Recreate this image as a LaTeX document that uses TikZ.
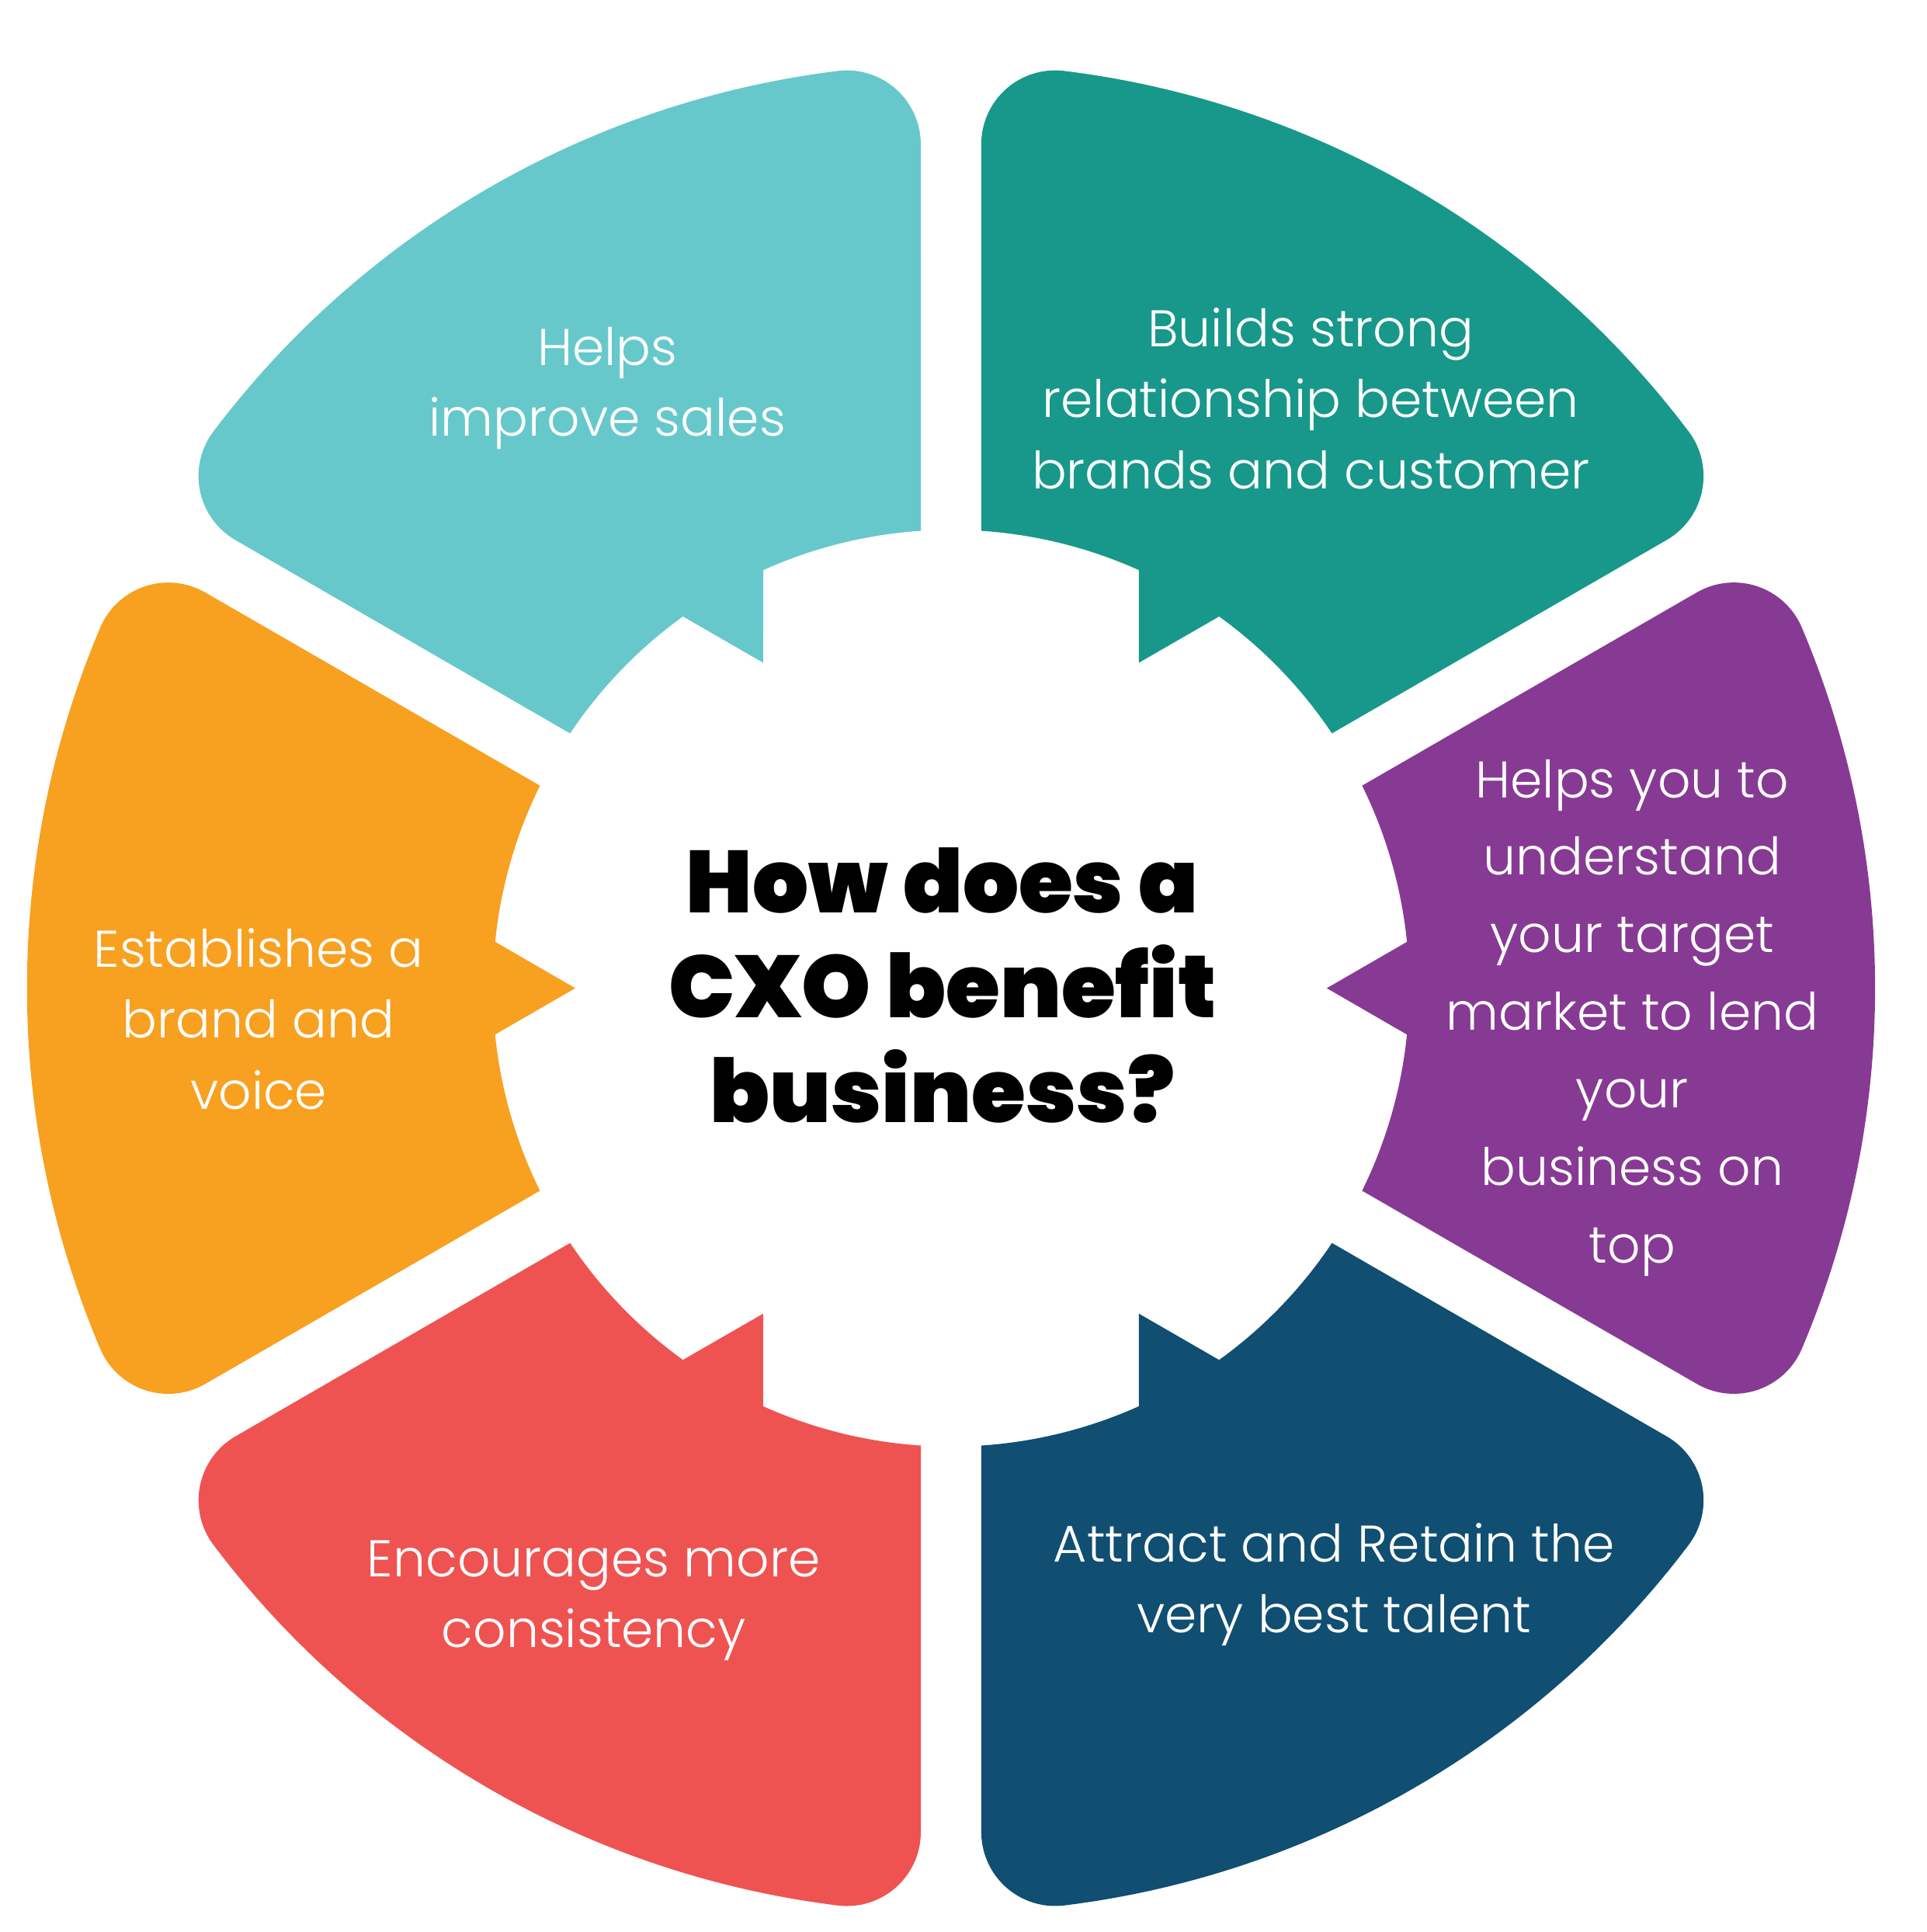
\documentclass[tikz,border=0pt]{standalone}
\usepackage{fontspec}
\newfontfamily\bodyfont{Poppins Light}
\newfontfamily\titlefont{Poppins Black}
\definecolor{cLightBlue}{HTML}{67C8CB}
\definecolor{cTeal}{HTML}{17988A}
\definecolor{cPurple}{HTML}{873A93}
\definecolor{cDarkBlue}{HTML}{104E72}
\definecolor{cRed}{HTML}{EE5352}
\definecolor{cOrange}{HTML}{F8A020}
\def\segshape{(333.7,164.4) -- (605.4,321.2)
  arc[start angle=120,end angle=22.966,radius=60]
  arc[start angle=22.966,end angle=-22.966,radius=750]
  arc[start angle=-22.966,end angle=-120,radius=60]
  -- (333.7,-164.4)
  arc[start angle=-26.22,end angle=-5.80,radius=372]
  -- (305,0) -- (370.1,37.6)
  arc[start angle=5.80,end angle=26.22,radius=372] -- cycle}
\tikzset{
  bodytext/.style={text=white,align=center,inner sep=0pt,
    font=\bodyfont\fontsize{11.9}{16.4}\selectfont},
  purpletext/.style={bodytext,font=\bodyfont\fontsize{11.9}{17.9}\selectfont},
  titletext/.style={text=black,align=center,inner sep=0pt,
    font=\titlefont\fontsize{20.3}{24.2}\selectfont}
}
\begin{document}
\begin{tikzpicture}[x=0.01cm,y=0.01cm]
\useasboundingbox (-772,-766) rectangle (792,802);
\fill[cPurple] \segshape;
\fill[cTeal,rotate=60] \segshape;
\fill[cLightBlue,rotate=120] \segshape;
\fill[cOrange,rotate=180] \segshape;
\fill[cRed,rotate=240] \segshape;
\fill[cDarkBlue,rotate=300] \segshape;
\node[titletext] (title) at (-7,2) {How does a\\CXO benefit\\business?};
\node[bodytext] (sales) at (-279,487) {Helps\\improve sales};
\node[bodytext] (builds) at (292,478.5) {Builds strong\\relationship between\\brands and customer};
\node[purpletext] (target) at (553,-24) {Helps you to\\understand\\your target\\market to lend\\your\\business on\\top};
\node[bodytext] (brand) at (-562,-25) {Establishes a\\brand and\\voice};
\node[bodytext] (consist) at (-290,-497) {Encourages more\\consistency};
\node[bodytext] (talent) at (311,-484) {Attract and Retain the\\very best talent};
\end{tikzpicture}
\end{document}
